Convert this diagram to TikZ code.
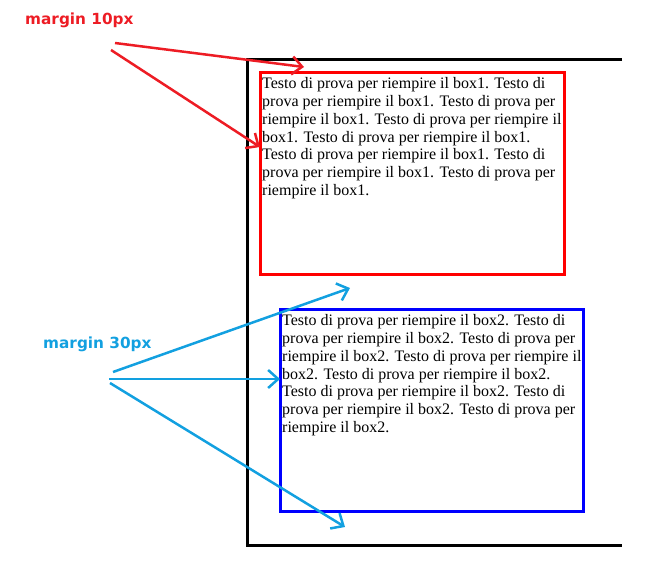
\documentclass[tikz,border=0pt]{standalone}
\usepackage{fontspec}
\setmainfont{Liberation Serif}
\newfontfamily\lblfont{DejaVu Sans}
\usetikzlibrary{arrows.meta}
\definecolor{redc}{RGB}{237,28,36}
\definecolor{boxred}{RGB}{255,0,0}
\definecolor{bluec}{RGB}{0,0,255}
\definecolor{cyanc}{RGB}{18,160,224}
\begin{document}
\begin{tikzpicture}[x=1pt,y=-1pt,
  frame/.style={line width=3pt,black},
  boxa/.style={line width=3pt,draw=boxred},
  boxb/.style={line width=3pt,draw=bluec},
  bodytext/.style={anchor=north west,inner sep=0pt,align=left,font=\fontsize{16}{17.9}\selectfont},
  lbl/.style={font=\lblfont\bfseries\fontsize{15.3}{17}\selectfont,inner sep=0pt},
  arr/.style={line width=2.5pt,-{Straight Barb[length=10pt,width=18pt,line width=2.5pt]}},
]
\useasboundingbox (0,0) rectangle (663,571);
% frame
\coordinate (ftr) at (622,59);
\coordinate (ftl) at (247,59);
\coordinate (fbl) at (247,545);
\coordinate (fbr) at (622,545);
\draw[frame] (ftr) -- (ftl) -- (fbl) -- (fbr);
% boxes
\draw[boxa] (260,72) rectangle (564,274);
\draw[boxb] (280,309) rectangle (583,511);
\node[bodytext] (t1) at (262,77) {Testo di prova per riempire il box1. Testo di\\prova per riempire il box1. Testo di prova per\\riempire il box1. Testo di prova per riempire il\\box1. Testo di prova per riempire il box1.\\Testo di prova per riempire il box1. Testo di\\prova per riempire il box1. Testo di prova per\\riempire il box1.};
\node[bodytext] (t2) at (282,314) {Testo di prova per riempire il box2. Testo di\\prova per riempire il box2. Testo di prova per\\riempire il box2. Testo di prova per riempire il\\box2. Testo di prova per riempire il box2.\\Testo di prova per riempire il box2. Testo di\\prova per riempire il box2. Testo di prova per\\riempire il box2.};
% labels
\node[lbl,text=redc,anchor=west] (l1) at (25,20) {margin 10px};
\node[lbl,text=cyanc,anchor=west] (l2) at (43,344) {margin 30px};
% red arrows
\coordinate (r1s) at (115,43);
\coordinate (r1e) at (304,67);
\coordinate (r2s) at (111,50);
\coordinate (r2e) at (260,147);
\draw[arr,redc] (r1s) -- (r1e);
\draw[arr,redc] (r2s) -- (r2e);
% blue arrows
\coordinate (b1s) at (113,372);
\coordinate (b1e) at (350,288);
\coordinate (b2s) at (109,379);
\coordinate (b2e) at (280,379);
\coordinate (b3s) at (110,383);
\coordinate (b3e) at (345,527);
\draw[arr,cyanc] (b1s) -- (b1e);
\draw[arr,cyanc] (b2s) -- (b2e);
\draw[arr,cyanc] (b3s) -- (b3e);
\end{tikzpicture}
\end{document}
